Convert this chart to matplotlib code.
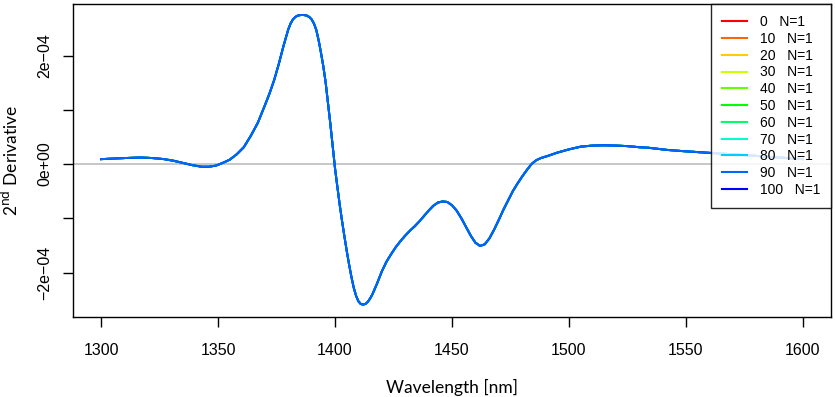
import matplotlib
matplotlib.use("Agg")
import matplotlib.pyplot as plt
import numpy as np

# Wavelength (nm) and 2nd derivative values (units of 1e-4)
wavelength = [1300, 1305, 1310, 1317, 1322, 1327, 1331, 1335, 1339, 1343, 1346, 1349,
              1352, 1355, 1358, 1361, 1364, 1367, 1370, 1372, 1374, 1376, 1378, 1380,
              1381, 1382, 1383, 1384, 1385, 1386, 1387, 1388, 1389, 1390, 1391, 1392,
              1393, 1394, 1395, 1396, 1397,
              1398, 1399, 1400, 1401, 1402, 1403, 1404, 1405, 1406, 1407, 1408, 1409,
              1410, 1411, 1412, 1413, 1414, 1415, 1416, 1418, 1420, 1422, 1424, 1426,
              1428, 1430, 1432, 1434, 1436, 1438, 1440, 1442, 1444, 1446, 1448, 1450,
              1452, 1454, 1456, 1458, 1460, 1462, 1464, 1466, 1468, 1470, 1472, 1474,
              1476, 1478, 1480, 1482, 1484, 1486, 1488, 1491, 1495, 1500, 1505, 1510,
              1515, 1520, 1525, 1530, 1534, 1538, 1542, 1548, 1555, 1562, 1570, 1580,
              1590, 1600]
deriv_e4 = [0.09, 0.10, 0.11, 0.12, 0.11, 0.09, 0.06, 0.02, -0.02, -0.05, -0.05, -0.03,
            0.02, 0.08, 0.18, 0.31, 0.52, 0.76, 1.08, 1.30, 1.55, 1.85, 2.18, 2.48,
            2.59, 2.665, 2.71, 2.735, 2.745, 2.748, 2.745, 2.735, 2.71, 2.665, 2.59, 2.47,
            2.28, 2.05, 1.80, 1.50, 1.12,
            0.74, 0.33, -0.08, -0.42, -0.75, -1.05, -1.33, -1.60, -1.85, -2.08, -2.28, -2.43,
            -2.53, -2.58, -2.59, -2.58, -2.54, -2.48, -2.40, -2.20, -1.98, -1.80, -1.66, -1.53,
            -1.42, -1.32, -1.23, -1.15, -1.06, -0.96, -0.86, -0.77, -0.71, -0.69, -0.70, -0.76,
            -0.86, -1.00, -1.16, -1.32, -1.45, -1.51, -1.48, -1.37, -1.21, -1.03, -0.84, -0.67,
            -0.50, -0.36, -0.23, -0.11, 0.00, 0.07, 0.11, 0.15, 0.21, 0.27, 0.32, 0.34,
            0.345, 0.34, 0.33, 0.31, 0.30, 0.28, 0.26, 0.24, 0.22, 0.20, 0.18, 0.15,
            0.12, 0.09]

series_labels = ["0   N=1", "10   N=1", "20   N=1", "30   N=1", "40   N=1", "50   N=1",
                 "60   N=1", "70   N=1", "80   N=1", "90   N=1", "100   N=1"]
series_colors = ["#FF0000", "#FF6600", "#FFCC00", "#CCFF00", "#66FF00", "#00FF00",
                 "#00FF66", "#00FFCC", "#00CCFF", "#0066FF", "#0000FF"]

x_ticks = [1300, 1350, 1400, 1450, 1500, 1550, 1600]
y_ticks = [-2e-4, -1e-4, 0, 1e-4, 2e-4]
y_ticklabels = ["\u22122e\u221204", "", "0e+00", "", "2e\u221204"]

fig = plt.figure(figsize=(8.35, 3.97), dpi=100)
ax = fig.add_axes([73 / 835, 80 / 397, 758 / 835, 313 / 397])

ax.axhline(0, color="#BEBEBE", lw=1.2, zorder=1)

y = np.array(deriv_e4) * 1e-4
for i, (lab, col) in enumerate(zip(series_labels, series_colors)):
    z = 30 if lab.startswith("90") else 2 + i
    ax.plot(wavelength, y, color=col, lw=1.4, label=lab, zorder=z)

ax.set_xlim(1288, 1612)
ax.set_ylim(-2.82e-4, 2.95e-4)
ax.set_xticks(x_ticks)
ax.set_xticklabels([str(t) for t in x_ticks], fontfamily="Liberation Sans", fontsize=11.5)
ax.set_yticks(y_ticks)
ax.set_yticklabels(y_ticklabels, fontfamily="Liberation Sans", fontsize=11.5,
                   rotation=90, va="center")
ax.tick_params(axis="x", direction="out", length=7, width=1, pad=12)
ax.tick_params(axis="y", direction="out", length=7, width=1, pad=8)
for s in ax.spines.values():
    s.set_linewidth(1)

ax.set_xlabel("Wavelength [nm]", fontfamily="Lato", fontsize=12.5, labelpad=15)
ax.set_ylabel("2$^{\\mathrm{nd}}$ Derivative", fontfamily="Lato", fontsize=12.5, labelpad=12)

handles, labels = ax.get_legend_handles_labels()
leg = ax.legend(handles, labels, loc="upper right", frameon=True, fancybox=False,
                edgecolor="black", framealpha=0.85, borderaxespad=0,
                prop={"family": "Liberation Sans", "size": 10},
                labelspacing=0.2, handlelength=1.8, handletextpad=0.9,
                borderpad=0.8)
leg.set_zorder(40)
leg.get_frame().set_linewidth(1)
for h in leg.legend_handles:
    h.set_linewidth(1.5)

fig.savefig("out.png", dpi=100)
